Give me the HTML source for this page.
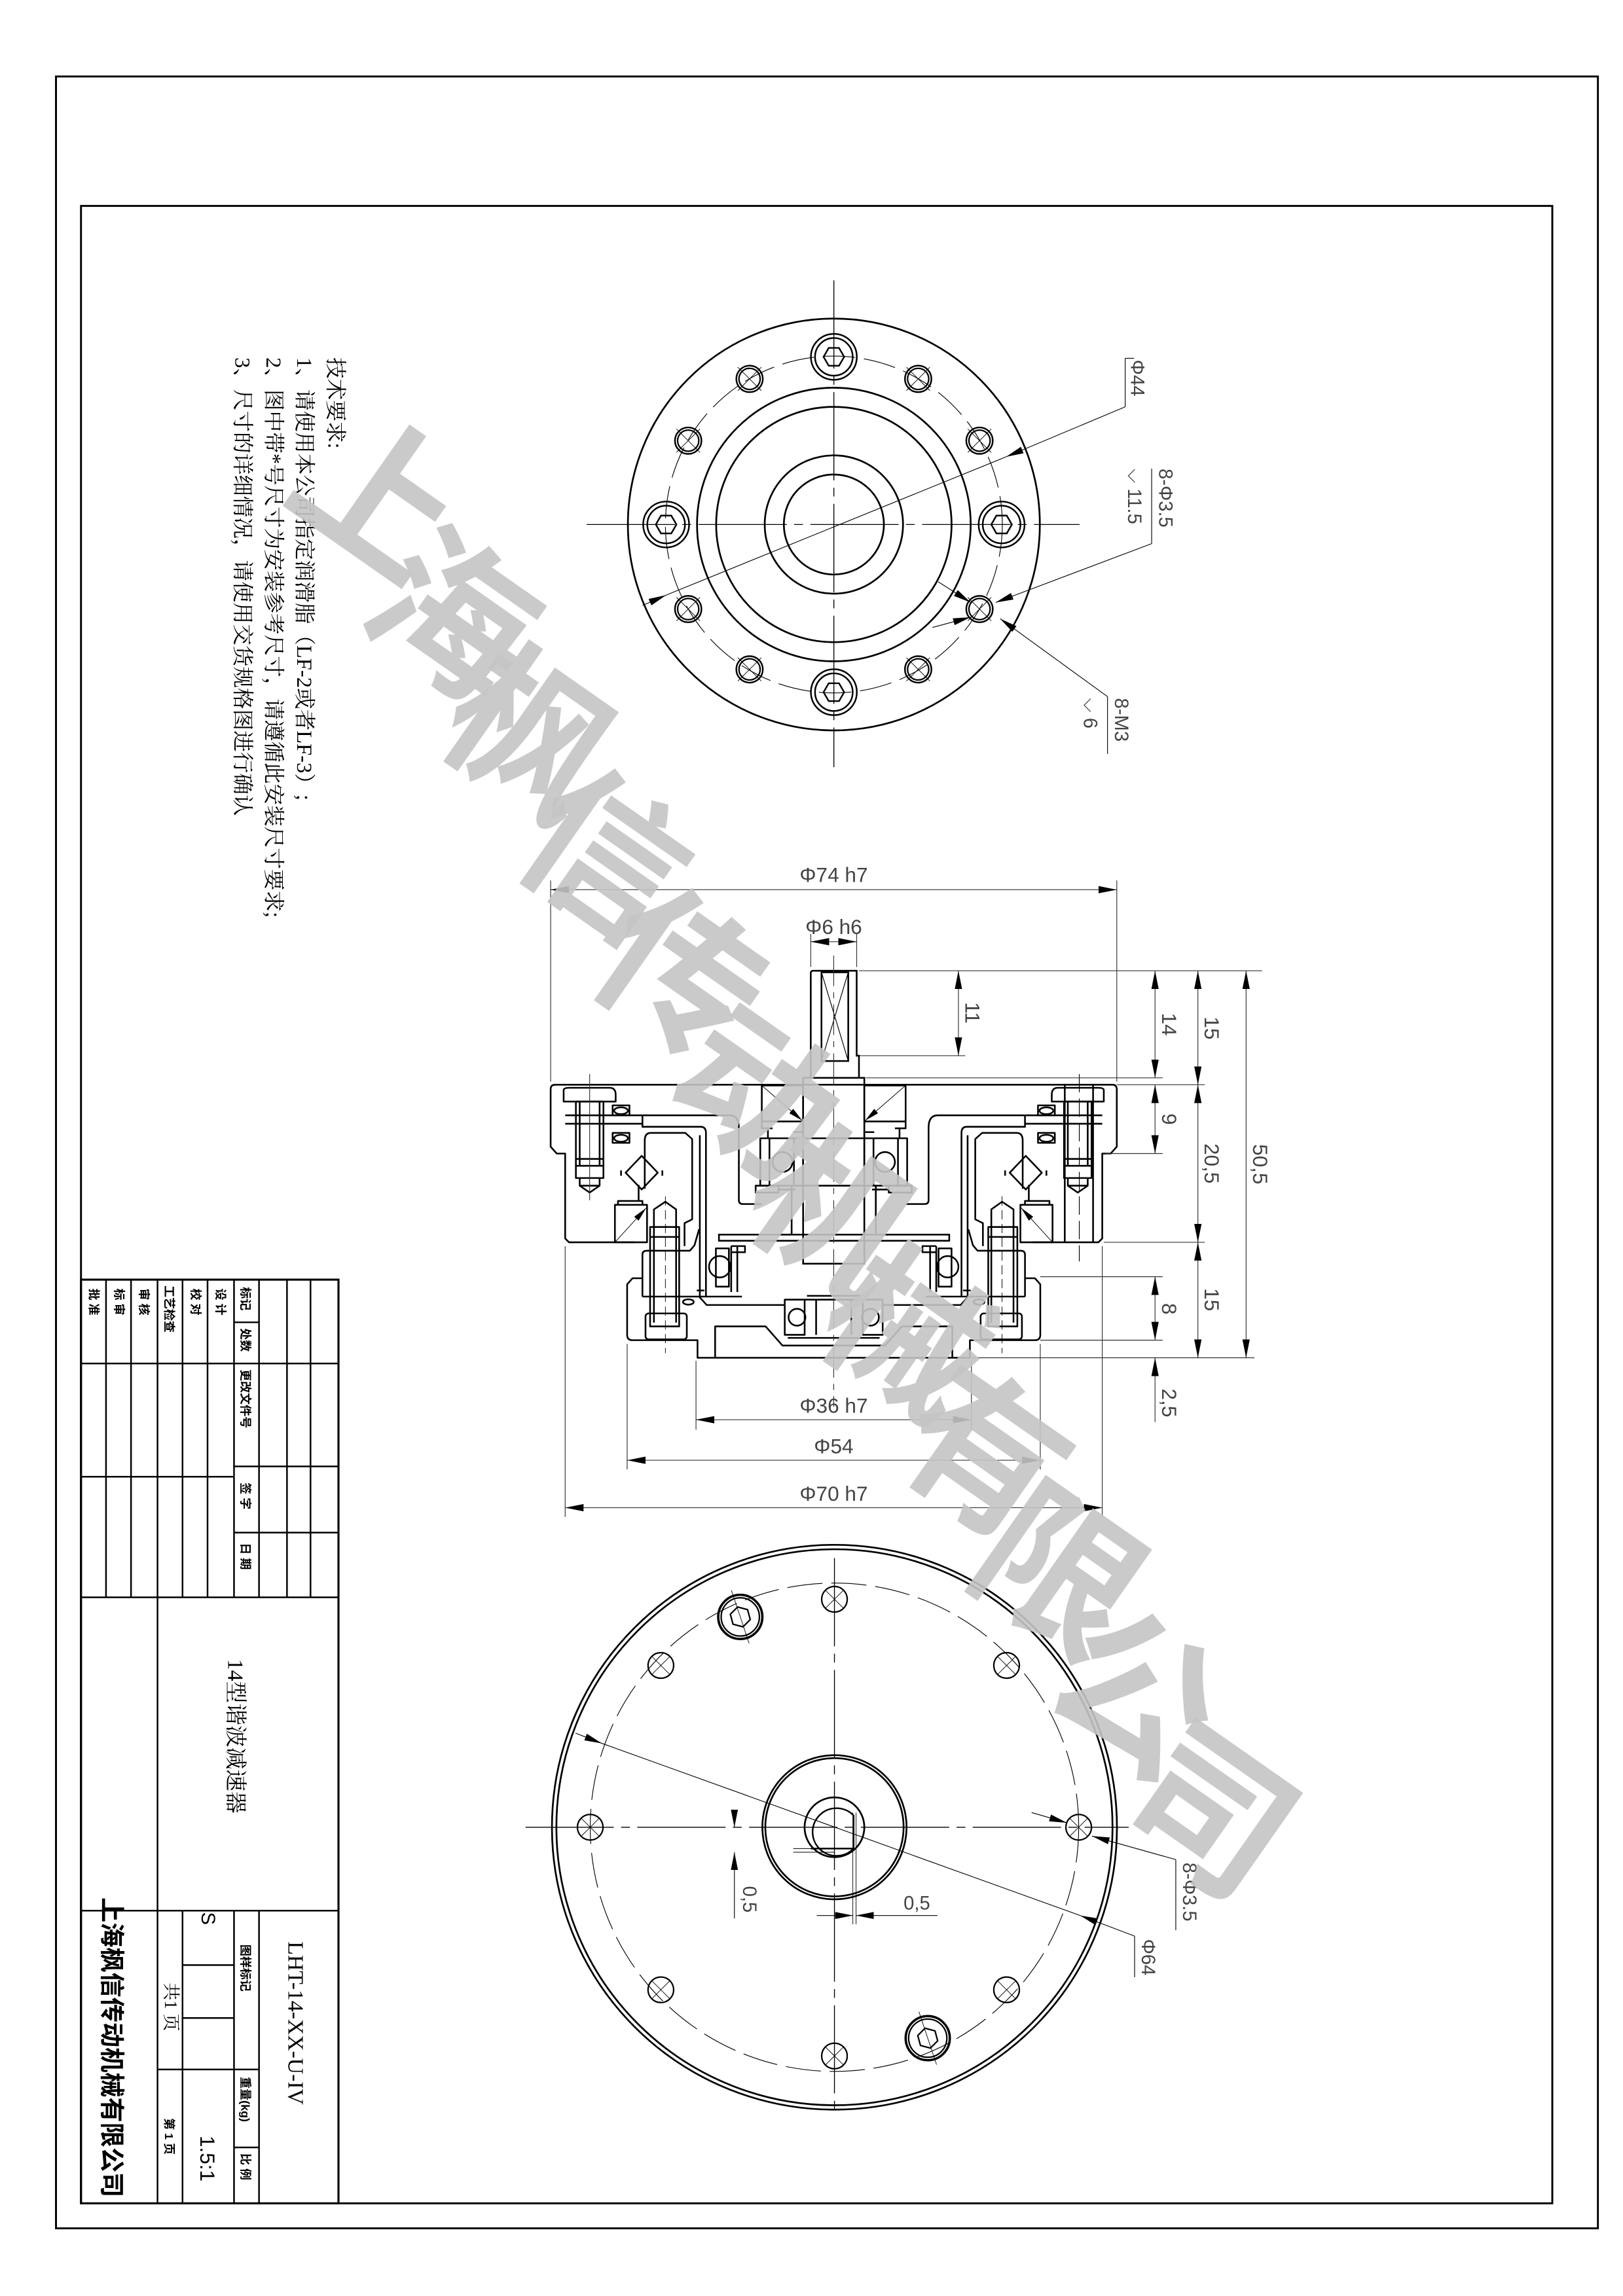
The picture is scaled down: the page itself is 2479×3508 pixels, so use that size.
<!DOCTYPE html>
<html><head><meta charset="utf-8"><style>html,body{margin:0;padding:0;background:#fff}svg{display:block}</style></head>
<body>
<svg xmlns="http://www.w3.org/2000/svg" width="2479" height="3508" viewBox="0 0 1103 1561">
<defs>
<marker id="a" viewBox="0 0 10 4" refX="10" refY="2" markerWidth="24" markerHeight="9.6" markerUnits="strokeWidth" orient="auto-start-reverse"><path d="M0,0 L10,2 L0,4 Z" fill="#000"/></marker>
<g id="hexb"><circle r="15.6" fill="none" stroke="#000" stroke-width="1.1"/><circle r="12.8" fill="none" stroke="#000" stroke-width="1.1"/><polygon points="7,0 3.5,6.06 -3.5,6.06 -7,0 -3.5,-6.06 3.5,-6.06" fill="none" stroke="#000" stroke-width="1.1"/></g>
<g id="sh"><circle r="9" fill="none" stroke="#000" stroke-width="1.1"/><circle r="7.2" fill="none" stroke="#000" stroke-width="1"/><path d="M-8,-8 L8,8 M-8,8 L8,-8" stroke="#000" stroke-width="0.4"/></g>
<g id="bh"><circle r="8.7" fill="none" stroke="#000" stroke-width="1"/><path d="M-6,-6 L6,6 M-6,6 L6,-6" stroke="#000" stroke-width="0.4"/></g>
<g id="half" fill="none" stroke="#000" stroke-width="0.22" stroke-linejoin="round">
 <path d="M0,14.9 H-36.4 Q-37,14.9 -37,15.5 V23 L-36.2,23.9 H-35.1 V35 L-34.6,35.5 H-26"/>
 <path d="M-35.1,18.9 H-25 M-35.1,20 H-25"/>
 <path d="M-25,18.9 H-13.6 Q-12.4,18.9 -12.4,20.5 V30 Q-12.4,30.5 -11.9,30.5 H-9.4"/>
 <path d="M-25,18.9 V20 V20.4 H-17.4 Q-16.7,20.4 -16.7,21.2 V42.6"/>
 <path d="M-17.5,21.5 V42.6 H-12"/>
 <path d="M-24.7,22.2 Q-24.7,21.2 -23.9,21.2 H-19.4 L-18.5,22 V32.5 L-19.5,33 V36 M-24.7,22.2 V28.5"/>
 <rect x="-28.6" y="30.6" width="4.2" height="4.9"/>
 <path d="M-28.6,35.5 L-24.5,31" stroke-width="0.08" marker-end="url(#a)"/>
 <path d="M-28.2,30.6 V30.1 H-25 V30.6 M-25.5,30.1 V28"/>
 <polygon points="-25.1,24.2 -23,26.4 -25.1,28.6 -27.2,26.4"/>
 <path d="M-27.8,26.1 V26.8 M-22.4,26.1 V26.8"/>
 <path d="M-35.3,17.1 V15.6 Q-35.3,15.3 -34.5,15.3 H-29.3 Q-28.5,15.3 -28.5,16.2 V17.1 Z"/>
 <rect x="-33.7" y="17.1" width="3.6" height="10"/>
 <path d="M-33.2,17.1 V25.5 M-30.6,17.1 V25.5 M-33.7,24.6 H-30.1 M-33.7,25.5 H-30.1 M-33.2,27.1 V28.1 L-31.9,29 L-30.6,28.1 V27.1 M-33.2,28.1 H-30.6"/>
 <ellipse cx="-27.8" cy="18.3" rx="0.9" ry="0.45"/><ellipse cx="-27.8" cy="21.9" rx="0.9" ry="0.45"/>
 <rect x="-28.9" y="17.6" width="2.2" height="1.3"/><rect x="-28.9" y="21.2" width="2.2" height="1.3"/>
 <rect x="-9.4" y="15" width="5.4" height="4.7"/>
 <path d="M-9.4,15 L-4.1,19.6" stroke-width="0.08" marker-end="url(#a)"/>
 <path d="M-9.4,19.7 V20.6 H-8 M-8.6,20.6 V21.9"/>
 <rect x="-9.6" y="21.9" width="5.6" height="6.2"/>
 <path d="M-8.4,21.9 V28.1 M-5.2,21.9 V28.1"/>
 <circle cx="-6.7" cy="25" r="1.3"/>
 <rect x="-10.2" y="28.1" width="3" height="0.9"/>
 <path d="M-7.2,28.6 H-5 M-5.3,21.1 H-4 V21.9"/>
 <path d="M-5.5,28.1 V34.5"/>
 <rect x="-15.4" y="36.3" width="1.7" height="5"/>
 <circle cx="-14.9" cy="38.7" r="1.4"/>
 <path d="M-13.4,36 V42 M-12.6,36 V42 M-13.4,36 H-11.6 V36.8 H-13.4"/>
 <path d="M-17.9,41.8 H-16.9"/>
 <path d="M-25,42.6 V37.1 Q-25,36.6 -24.4,36.6 H-18.8 L-18.2,35.9 L-17.6,33.8"/>
 <path d="M-25,42.6 H-17.6"/>
 <ellipse cx="-19" cy="43.3" rx="0.7" ry="0.35"/>
 <path d="M-23.5,33.5 V31.2 L-22,30.2 L-20.6,31.2 V33.5"/>
 <rect x="-24" y="33.5" width="3.8" height="13"/>
 <path d="M-23.5,33.5 V46 M-20.6,33.5 V46 M-24,34.8 H-20.2"/>
 <rect x="-24.6" y="44.8" width="5.4" height="3.4" rx="0.4"/>
 <path d="M-22,29.5 V50" stroke-width="0.08" stroke-dasharray="1.2,0.6"/>
 <path d="M0,50.6 H-17.8 V48.3 H-26.3 Q-27,48.3 -27,47.6 V41 L-26.3,40.2 H-25"/>
 <path d="M-15.5,50.6 V46.5 H-8.9 L-6.7,49 H0"/>
 <path d="M-17.6,42.6 L-16.6,43.7 H-6.4"/>
 <path d="M-6.4,43 H-3.8 V47.6 H-6.4 Z"/>
 <circle cx="-4.8" cy="45.3" r="1.1"/>
 <path d="M-3.5,42.5 H0 M-6,48 H0"/>
</g>
</defs>

<rect x="38" y="52" width="1048" height="1463" fill="none" stroke="#000" stroke-width="1.3"/>
<rect x="55" y="140" width="1000" height="1358" fill="none" stroke="#000" stroke-width="1.3"/>

<g font-family="Liberation Serif, Noto Serif CJK SC, serif" font-size="14.5" fill="#000">
 <text transform="translate(223,243) rotate(90)">技术要求:</text>
 <text transform="translate(202,243) rotate(90)">1、请使用本公司指定润滑脂（LF-2或者LF-3）;</text>
 <text transform="translate(181,243) rotate(90)">2、图中带*号尺寸为安装参考尺寸，请遵循此安装尺寸要求;</text>
 <text transform="translate(160,243) rotate(90)">3、尺寸的详细情况，请使用交货规格图进行确认</text>
</g>

<g transform="translate(566.7,356.6)" fill="none" stroke="#000">
 <path d="M-168,0 H167 M0,-166 V165" stroke-width="0.6" stroke-dasharray="60,5,6,5"/>
 <circle r="140" stroke-width="1.2"/>
 <circle r="93" stroke-width="1.2"/>
 <circle r="80" stroke-width="1.2"/>
 <circle r="47" stroke-width="1.2"/>
 <circle r="34" stroke-width="1.2"/>
 <circle r="114.5" stroke-width="0.5" stroke-dasharray="22,6"/>
 <use href="#hexb" x="0" y="-114"/><use href="#hexb" x="0" y="114"/>
 <use href="#hexb" x="-114" y="0"/><use href="#hexb" x="114" y="0"/>
 <use href="#sh" x="-57.3" y="-99"/><use href="#sh" x="57.3" y="-99"/>
 <use href="#sh" x="-99" y="-57"/><use href="#sh" x="99" y="-57"/>
 <use href="#sh" x="-99" y="57.5"/><use href="#sh" x="99" y="57.5"/>
 <use href="#sh" x="-57.3" y="98.5"/><use href="#sh" x="57.3" y="98.5"/>
 <g stroke-width="0.5">
  <path d="M198,-80 L117,-46" marker-end="url(#a)"/>
  <path d="M117,-46 L-114,48"/>
  <path d="M-130,55 L-114,48" marker-end="url(#a)"/>
  <path d="M198,-80 V-113 M198,-113 H204"/>
  <path d="M216,13 L110,53" marker-end="url(#a)"/>
  <path d="M216,13 V-38"/>
  <path d="M186,117 L113,64" marker-end="url(#a)"/>
  <path d="M186,117 V156"/>
  <path d="M67,70 L93,63" marker-end="url(#a)"/>
  <path d="M71,39 L93,53" marker-end="url(#a)"/>
 </g>
 <g font-family="Liberation Sans, sans-serif" font-size="13" fill="#444" stroke="none">
  <text transform="translate(202,-112) rotate(90)">Φ44</text>
  <text transform="translate(221,-38) rotate(90)">8-Φ3.5</text>
  <text transform="translate(200,-38) rotate(90)">⌵ 11.5</text>
  <text transform="translate(191,118) rotate(90)">8-M3</text>
  <text transform="translate(170,118) rotate(90)">⌵ 6</text>
 </g>
</g>

<g transform="translate(566.6,660) scale(5.2)">
 <use href="#half"/>
 <use href="#half" transform="scale(-1,1)"/>
 <g fill="none" stroke="#000" stroke-width="0.22">
  <path d="M-3,14 V0.3 Q-3,0 -2.7,0 H3 V11.1 H3.3 V14"/>
  <rect x="-1.6" y="0.2" width="3.5" height="11.6"/>
  <path d="M-1.6,0.2 L1.9,11.8 M1.9,0.2 L-1.6,11.8" stroke-width="0.1"/>
  <rect x="-4" y="14" width="8" height="24.3"/>
  <path d="M-4,21.9 H4 M-4,28.1 H4"/>
  <rect x="-15" y="34.5" width="30.1" height="0.8"/>
  <path d="M-2.3,43 V47.6 M2.3,43 V47.6 M-3.8,43 H3.8"/>
  <path d="M30.2,14.9 V35.5 M33.9,14.9 V35.5"/>
 </g>
 <path d="M32.1,13.5 V38" stroke="#000" stroke-width="0.1" stroke-dasharray="2.4,0.8"/>
 <path d="M0,-2 V57" stroke="#333" stroke-width="0.1" stroke-dasharray="4,0.8,0.8,0.8"/>
 <path d="M-31.9,13.5 V30" stroke="#333" stroke-width="0.1"/>
 <g fill="none" stroke="#333" stroke-width="0.1">
  <path d="M-37,14.5 V-11.8 M37,14.5 V-11.8"/>
  <path d="M-37,-10.6 H37" marker-start="url(#a)" marker-end="url(#a)"/>
  <path d="M-3,-0.5 V-4.8 M3,-0.5 V-4.8"/>
  <path d="M-3,-3.8 H3" marker-start="url(#a)" marker-end="url(#a)"/>
  <path d="M3.3,0 H56 M3.4,11.1 H17.2 M4.2,14 H43 M37,14.9 H48.5 M35.5,23.9 H43 M35.3,35.5 H48.5 M27,40 H43 M27,48.3 H43 M18,50.6 H55"/>
  <path d="M16.3,0 V11.1" marker-start="url(#a)" marker-end="url(#a)"/>
  <path d="M42,0 V14" marker-start="url(#a)" marker-end="url(#a)"/>
  <path d="M42,14.9 V23.9" marker-start="url(#a)" marker-end="url(#a)"/>
  <path d="M42,40 V48.3" marker-start="url(#a)" marker-end="url(#a)"/>
  <path d="M42,59 V50.6" marker-end="url(#a)"/>
  <path d="M47.6,0 V14.9" marker-start="url(#a)" marker-end="url(#a)"/>
  <path d="M47.6,14.9 V35.5" marker-start="url(#a)" marker-end="url(#a)"/>
  <path d="M47.6,35.5 V50.6" marker-start="url(#a)" marker-end="url(#a)"/>
  <path d="M53.9,0 V50.6" marker-start="url(#a)" marker-end="url(#a)"/>
  <path d="M-18,51 V60 M18,51 V60 M-27,48.8 V65.2 M27,48.8 V65.2 M-35.1,36 V71.4 M35.1,36 V71.4"/>
  <path d="M-18,58.7 H18" marker-start="url(#a)" marker-end="url(#a)"/>
  <path d="M-27,64 H27" marker-start="url(#a)" marker-end="url(#a)"/>
  <path d="M-35.1,70.2 H35.1" marker-start="url(#a)" marker-end="url(#a)"/>
 </g>
 <g font-family="Liberation Sans, sans-serif" font-size="2.7" fill="#444">
  <text x="0" y="-11.6" text-anchor="middle">Φ74 h7</text>
  <text x="0" y="-4.8" text-anchor="middle">Φ6 h6</text>
  <text x="0" y="57.8" text-anchor="middle">Φ36 h7</text>
  <text x="0" y="63.1" text-anchor="middle">Φ54</text>
  <text x="0" y="69.3" text-anchor="middle">Φ70 h7</text>
  <text transform="translate(17.2,5.5) rotate(90)" text-anchor="middle">11</text>
  <text transform="translate(42.9,7) rotate(90)" text-anchor="middle">14</text>
  <text transform="translate(42.9,19.4) rotate(90)" text-anchor="middle">9</text>
  <text transform="translate(42.9,44.2) rotate(90)" text-anchor="middle">8</text>
  <text transform="translate(42.9,56.5) rotate(90)" text-anchor="middle">2,5</text>
  <text transform="translate(48.5,7.5) rotate(90)" text-anchor="middle">15</text>
  <text transform="translate(48.5,25.2) rotate(90)" text-anchor="middle">20,5</text>
  <text transform="translate(48.5,43) rotate(90)" text-anchor="middle">15</text>
  <text transform="translate(54.8,25.3) rotate(90)" text-anchor="middle">50,5</text>
 </g>
</g>

<g transform="translate(567.1,1242.3)" fill="none" stroke="#000">
 <path d="M-210,0 H200 M0,-183 V196" stroke-width="0.6" stroke-dasharray="60,5,6,5"/>
 <circle r="192" stroke-width="1.2"/>
 <circle r="189" stroke-width="1.2"/>
 <circle r="166" stroke-width="0.5" stroke-dasharray="24,6"/>
 <circle r="49" stroke-width="1.2"/>
 <circle r="47" stroke-width="1.2"/>
 <circle r="20.3" stroke-width="1.2"/>
 <path d="M13,-8 A16.2,16.2 0 1 0 13,14.5 Z M-16,14.5 H13" stroke-width="1.1"/>
 <path d="M12.5,-10 V66 M14.7,-10 V66 M-28,14.5 H0 M-28,17 H0" stroke-width="0.4"/>
 <use href="#bh" x="0" y="-155"/><use href="#bh" x="166" y="0"/>
 <use href="#bh" x="0" y="155.5"/><use href="#bh" x="-166" y="0"/>
 <use href="#bh" x="-118" y="-110"/><use href="#bh" x="117" y="-110"/>
 <use href="#bh" x="-118" y="110.5"/><use href="#bh" x="117" y="110.5"/>
 <g transform="translate(-64,-143)"><circle r="15" stroke-width="1.6"/><circle r="13" stroke-width="1"/><polygon points="7,0 3.5,6.06 -3.5,6.06 -7,0 -3.5,-6.06 3.5,-6.06" stroke-width="1" transform="rotate(15)"/><path d="M-6,-18 L6,18" stroke-width="0.4"/></g>
 <g transform="translate(63.4,143.4)"><circle r="15" stroke-width="1.6"/><circle r="13" stroke-width="1"/><polygon points="7,0 3.5,6.06 -3.5,6.06 -7,0 -3.5,-6.06 3.5,-6.06" stroke-width="1" transform="rotate(15)"/><path d="M-6,-18 L6,18" stroke-width="0.4"/></g>
 <g stroke-width="0.5">
  <path d="M-176,-64 L-158,-57" marker-end="url(#a)"/>
  <path d="M-158,-57 L167,60"/>
  <path d="M204,74 L167,60" marker-end="url(#a)"/>
  <path d="M204,74 V102"/>
  <path d="M134,-10 L158,-3" marker-end="url(#a)"/>
  <path d="M232,22 L175,6" marker-end="url(#a)"/>
  <path d="M232,22 V70"/>
  <path d="M-68,-11 V0" marker-end="url(#a)"/>
  <path d="M-68,62 V17" marker-end="url(#a)"/>
  <path d="M-12,60 H12.5" marker-end="url(#a)"/>
  <path d="M70,60 H14.7" marker-end="url(#a)"/>
 </g>
 <g font-family="Liberation Sans, sans-serif" font-size="13" fill="#444" stroke="none">
  <text transform="translate(-62,40) rotate(90)">0,5</text>
  <text x="47" y="56">0,5</text>
  <text transform="translate(209,76) rotate(90)">Φ64</text>
  <text transform="translate(237,24) rotate(90)">8-Φ3.5</text>
 </g>
</g>

<g fill="none" stroke="#000" stroke-width="1.1">
 <rect x="55" y="870" width="175" height="628" stroke-width="1.4"/>
 <path d="M72,870 V1086 M89,870 V1086 M107,870 V1498 M124,870 V1086 M141,870 V1086 M159,870 V1086 M176,870 V1086 M195,870 V1086 M211,870 V1086"/>
 <path d="M55,927 H230 M55,1004 H159 M159,997 H230 M159,1042 H230 M159,899 H176 M55,1086 H230 M55,1299 H230"/>
 <path d="M124,1299 V1498 M159,1299 V1498 M176,1299 V1498 M124,1336 H159 M124,1372 H159 M107,1407 H159 M159,1407 H176 M159,1460 H176"/>
</g>
<g font-family="Liberation Sans, Noto Sans CJK SC, sans-serif" fill="#000">
 <g font-size="8" font-weight="bold">
  <text transform="translate(164,875) rotate(90)">标记</text>
  <text transform="translate(164,903) rotate(90)">处数</text>
  <text transform="translate(164,931) rotate(90)">更改文件号</text>
  <text transform="translate(164,1008) rotate(90)">签 字</text>
  <text transform="translate(164,1049) rotate(90)">日 期</text>
  <text transform="translate(147,876) rotate(90)">设 计</text>
  <text transform="translate(130,876) rotate(90)">校 对</text>
  <text transform="translate(112,874) rotate(90)">工艺检查</text>
  <text transform="translate(95,876) rotate(90)">审 核</text>
  <text transform="translate(78,876) rotate(90)">标 审</text>
  <text transform="translate(61,876) rotate(90)">批 准</text>
  <text transform="translate(164,1322) rotate(90)">图样标记</text>
  <text transform="translate(164,1412) rotate(90)">重量(kg)</text>
  <text transform="translate(164,1464) rotate(90)">比 例</text>
  <text transform="translate(112,1440) rotate(90)">第 1 页</text>
 </g>
 <text transform="translate(155,1128) rotate(90)" font-size="15" font-family="Liberation Serif, Noto Serif CJK SC, serif">14型谐波减速器</text>
 <text transform="translate(196,1320) rotate(90)" font-size="15" font-family="Liberation Serif, Noto Serif CJK SC, serif">LHT-14-XX-U-IV</text>
 <text transform="translate(70,1290) rotate(90)" font-size="17" font-weight="bold">上海枫信传动机械有限公司</text>
 <text transform="translate(137,1300) rotate(90)" font-size="13">S</text>
 <text transform="translate(112,1348) rotate(90)" font-size="12" font-family="Liberation Serif, Noto Serif CJK SC, serif">共1 页</text>
 <text transform="translate(136,1452) rotate(90)" font-size="14">1.5:1</text>
</g>

<g font-family="Noto Sans CJK SC, sans-serif" font-size="108" font-weight="bold" fill="#c4c4c4" fill-opacity="0.9" text-anchor="middle" dominant-baseline="central">
 <text transform="translate(262,330) rotate(35)">上</text>
 <text transform="translate(313,412) rotate(35)">海</text>
 <text transform="translate(365,493) rotate(35)">枫</text>
 <text transform="translate(416,575) rotate(35)">信</text>
 <text transform="translate(468,656) rotate(35)">传</text>
 <text transform="translate(519,737) rotate(35)">动</text>
 <text transform="translate(571,818) rotate(35)">机</text>
 <text transform="translate(622,900) rotate(35)">械</text>
 <text transform="translate(674,981) rotate(35)">有</text>
 <text transform="translate(725,1062) rotate(35)">限</text>
 <text transform="translate(777,1144) rotate(35)">公</text>
 <text transform="translate(828,1225) rotate(35)">司</text>
</g>
</svg>
</body></html>
